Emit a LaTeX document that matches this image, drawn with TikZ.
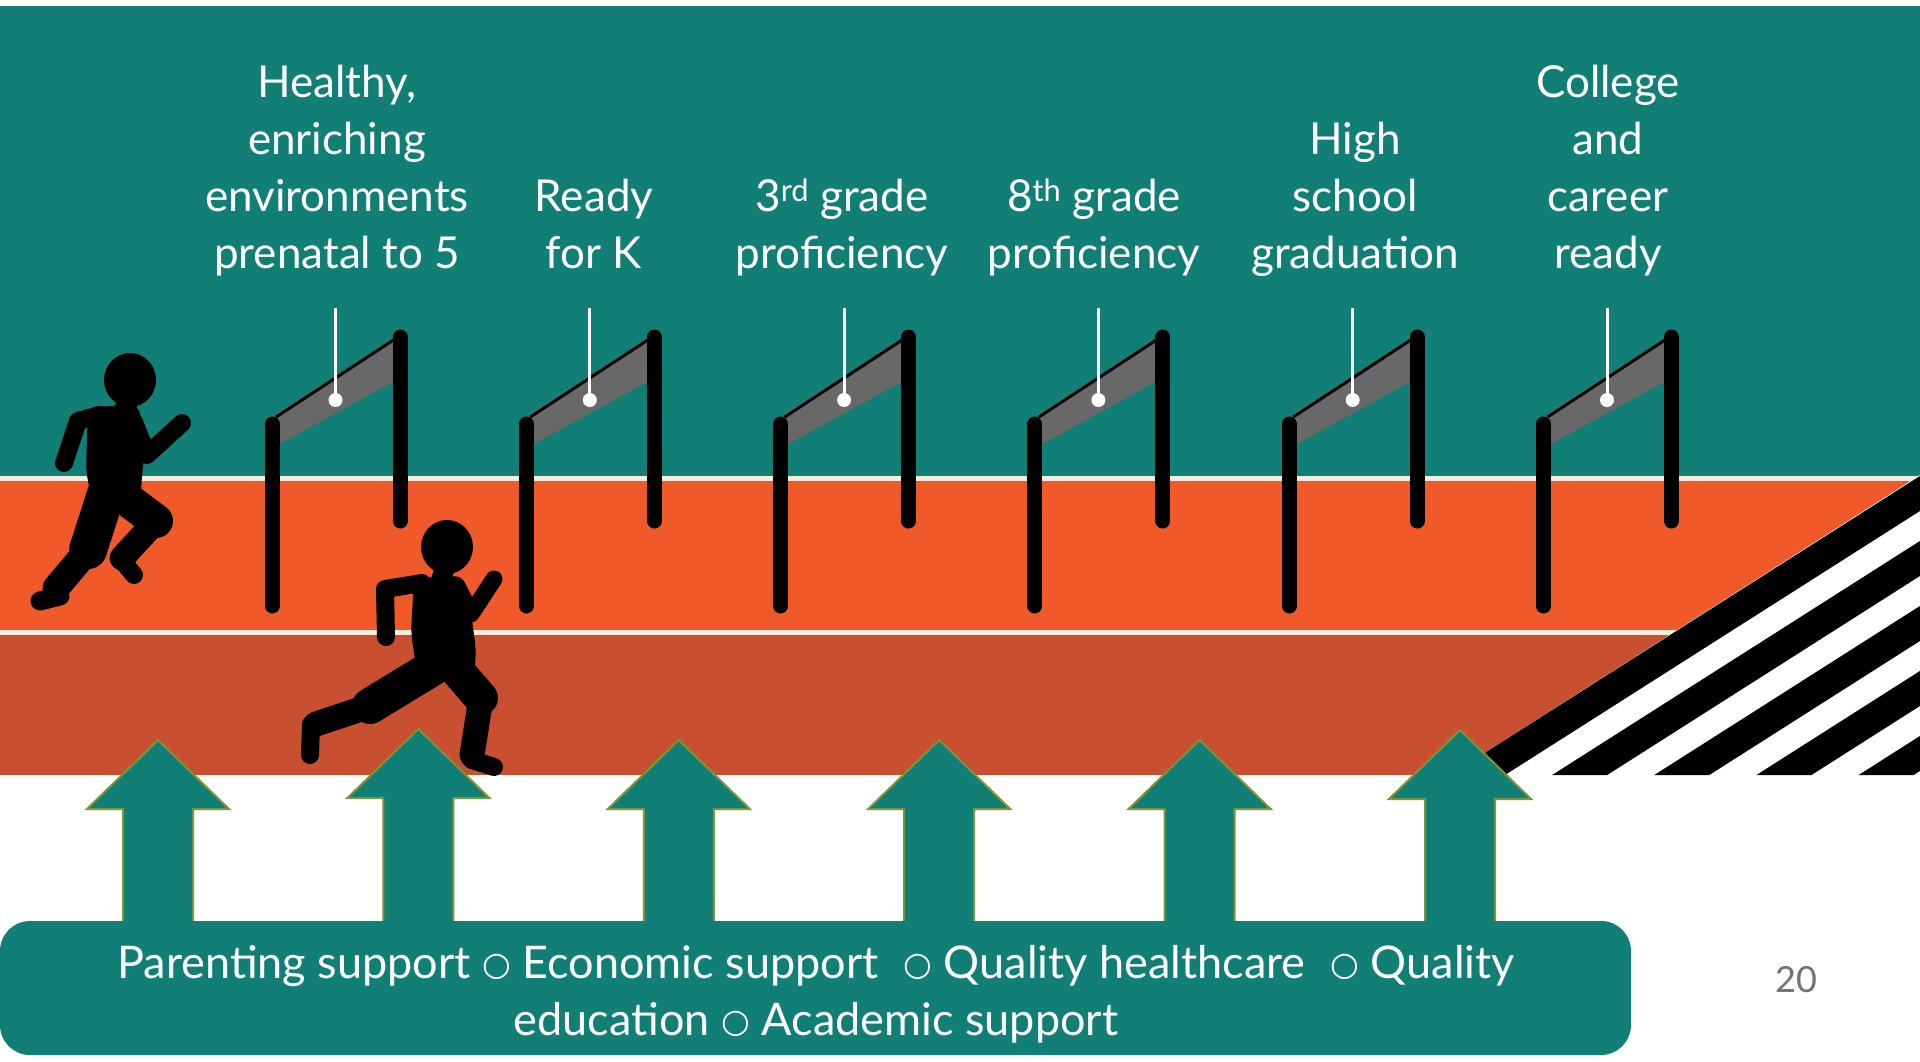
\documentclass[tikz,border=0pt]{standalone}
\usepackage{fontspec}
\setmainfont{Lato}
\newfontfamily\symfont{DejaVu Sans}
\definecolor{sceneteal}{RGB}{17,127,118}
\definecolor{trackorange}{RGB}{240,90,42}
\definecolor{trackdark}{RGB}{200,80,48}
\definecolor{lanecream}{RGB}{245,238,222}
\definecolor{barshade}{RGB}{104,104,104}
\definecolor{arrowrim}{RGB}{120,150,58}
\definecolor{pagegray}{RGB}{118,113,113}
\newcommand{\ringsep}{\raisebox{2.5pt}{\symfont\fontsize{33}{33}\selectfont ○}}
\tikzset{
  labeltext/.style={text=white, font=\fontsize{44}{57}\selectfont, inner sep=0pt, anchor=base},
  bannertext/.style={text=white, font=\fontsize{45}{57}\selectfont, inner sep=0pt, anchor=base},
  post/.style={line width=15pt, line cap=round, black},
  hurdlebar/.style={fill=barshade},
  pendant/.style={white, line width=3pt},
  liftarrow/.style={fill=sceneteal, draw=arrowrim, line width=2pt, line join=miter},
  limb/.style={line cap=round, line join=round, black},
}
\begin{document}
\begin{tikzpicture}[x=1pt,y=-1pt]
\useasboundingbox (0,0) rectangle (1920,1061);
% sky, track lanes and lane lines
\fill[white] (0,0) rectangle (1920,1061);
\fill[sceneteal] (0,6) rectangle (1920,478);
\fill[trackorange] (0,478) rectangle (1920,633);
\fill[trackdark] (0,633) rectangle (1920,775);
\fill[lanecream] (0,476) rectangle (1920,481);
\fill[lanecream] (0,630) rectangle (1920,635);
% finish-line stripes
\begin{scope}
  \clip (1450,775) -- (1920,475) -- (1920,775) -- cycle;
  \fill[white] (1400,440) rectangle (1920,775);
  \foreach \k in {0,...,6}{
    \pgfmathsetmacro\off{65*\k}
    \fill[black] (1400,806.8+\off) -- (1960,450.5+\off) -- (1960,485.5+\off) -- (1400,841.8+\off) -- cycle;
  }
\end{scope}
% hurdles with their pendant markers
\foreach \i in {0,...,5}{
  \pgfmathsetmacro\hx{272+254.3*\i}
  \fill[hurdlebar] (\hx+4,414) -- (\hx+124,338) -- (\hx+124,380) -- (\hx+4,446) -- cycle;
  \draw[black, line width=3pt] (\hx+4,417) -- (\hx+126,337);
  \draw[post] (\hx,424) -- (\hx,606);
  \draw[post] (\hx+128,337) -- (\hx+128,521);
  \draw[pendant] (\hx+63.5,308) -- (\hx+63.5,400);
  \fill[white] (\hx+63.5,400) circle (7pt);
}
% runner at the back
\fill[black] (130,380) ellipse [x radius=26pt, y radius=27pt];
\draw[limb, line width=20pt] (129,400) -- (121,416);
\fill[black, rounded corners=8pt] (88,407) -- (138,405) -- (146,440) -- (142,475) -- (140,508) -- (93,508) -- (86,470) -- cycle;
\draw[limb, line width=18pt] (100,415) -- (78,421) -- (64,463);
\draw[limb, line width=18pt] (134,422) -- (147,455) -- (182,423);
\draw[limb, line width=34pt] (120,494) -- (156,521);
\draw[limb, line width=25pt] (156,521) -- (122,558);
\draw[limb, line width=18pt] (121,559) -- (134,575);
\draw[limb, line width=38pt] (106,494) -- (88,550);
\draw[limb, line width=27pt] (88,550) -- (56,588);
\draw[limb, line width=19pt] (60,596) -- (40,601);
% runner in front
\fill[black] (447,547) ellipse [x radius=26pt, y radius=27pt];
\draw[limb, line width=20pt] (444,570) -- (440,584);
\fill[black, rounded corners=8pt] (414,578) -- (463,576) -- (471,612) -- (476,650) -- (474,680) -- (418,680) -- (411,632) -- cycle;
\draw[limb, line width=18pt] (422,583) -- (385,589) -- (386,637);
\draw[limb, line width=17pt] (457,586) -- (471,614) -- (494,579);
\draw[limb, line width=36pt] (434,667) -- (370,706);
\draw[limb, line width=25pt] (370,706) -- (316,724);
\draw[limb, line width=18pt] (311,724) -- (310,755);
\draw[limb, line width=34pt] (455,668) -- (481,698);
\draw[limb, line width=25pt] (481,698) -- (472,755);
\draw[limb, line width=18pt] (472,760) -- (494,767);
% milestone labels
\node[labeltext] (healthy) at (337,268) {\begin{tabular}[b]{@{}c@{}}Healthy,\\enriching\\environments\\prenatal to 5\end{tabular}};
\node[labeltext] (ready) at (594,268) {\begin{tabular}[b]{@{}c@{}}Ready\\for K\end{tabular}};
\node[labeltext] (third) at (842,268) {\begin{tabular}[b]{@{}c@{}}3\textsuperscript{rd} grade\\proficiency\end{tabular}};
\node[labeltext] (eighth) at (1094,268) {\begin{tabular}[b]{@{}c@{}}8\textsuperscript{th} grade\\proficiency\end{tabular}};
\node[labeltext] (high) at (1355,268) {\begin{tabular}[b]{@{}c@{}}High\\school\\graduation\end{tabular}};
\node[labeltext] (college) at (1608,268) {\begin{tabular}[b]{@{}c@{}}College\\and\\career\\ready\end{tabular}};
% support arrows
\foreach \cx/\ya in {158/740, 418.4/729, 678.8/740, 939.2/740, 1199.6/740, 1460/730}{
  \draw[liftarrow] (\cx,\ya) -- (\cx+71,\ya+69) -- (\cx+35,\ya+69) -- (\cx+35,930) -- (\cx-35,930) -- (\cx-35,\ya+69) -- (\cx-71,\ya+69) -- cycle;
}
% supports banner
\fill[sceneteal, rounded corners=30pt] (0,921) rectangle (1631,1055);
\node[bannertext] (supports) at (816,978) {\begin{tabular}[t]{@{}c@{}}Parenting support \ringsep\ Economic support\hspace{0.3em} \ringsep\ Quality healthcare\hspace{0.3em} \ringsep\ Quality\\education \ringsep\ Academic support\end{tabular}};
% slide number
\node[text=pagegray, font=\fontsize{36}{36}\selectfont, inner sep=0pt] (pagenum) at (1796,980) {20};
\end{tikzpicture}
\end{document}
